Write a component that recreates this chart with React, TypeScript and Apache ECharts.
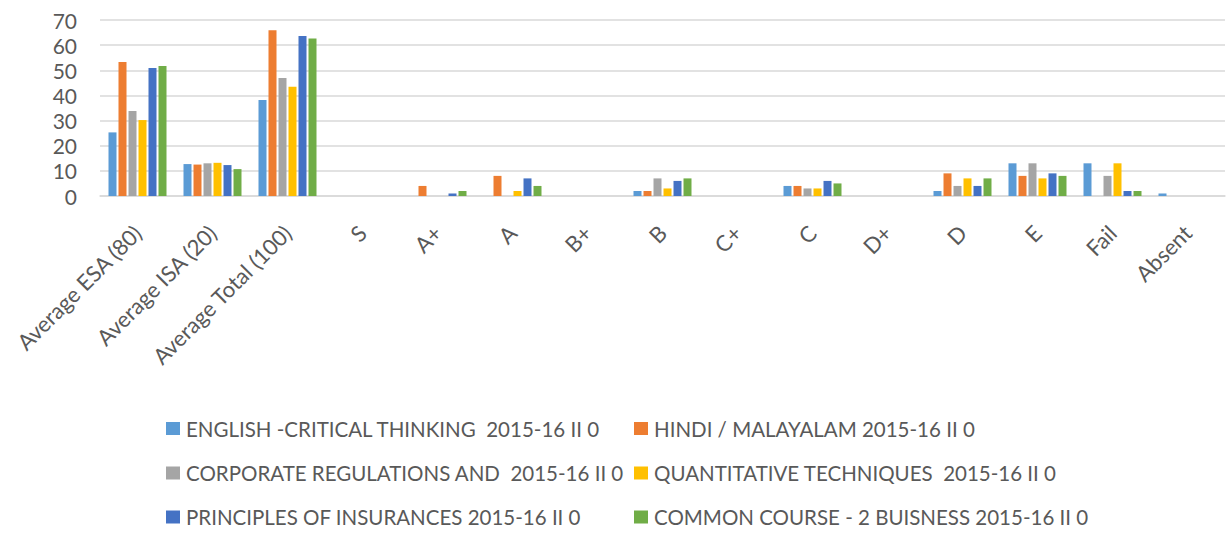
import React, { useEffect, useRef } from "react";
import * as echarts from "echarts";

const categories = [
  "Average ESA (80)", "Average ISA (20)", "Average Total (100)", "S", "A+", "A", "B+",
  "B", "C+", "C", "D+", "D", "E", "Fail", "Absent",
];

const seriesNames = [
  "ENGLISH -CRITICAL THINKING  2015-16 II 0",
  "HINDI / MALAYALAM 2015-16 II 0",
  "CORPORATE REGULATIONS AND  2015-16 II 0",
  "QUANTITATIVE TECHNIQUES  2015-16 II 0",
  "PRINCIPLES OF INSURANCES 2015-16 II 0",
  "COMMON COURSE - 2 BUISNESS 2015-16 II 0",
];

const english = [25.3, 12.7, 38.2, 0, 0, 0, 0, 2, 0, 4, 0, 2, 13, 13, 1];
const hindi = [53.3, 12.5, 65.9, 0, 4, 8, 0, 2, 0, 4, 0, 9, 8, 0, 0];
const corporate = [33.8, 13.0, 46.9, 0, 0, 0, 0, 7, 0, 3, 0, 4, 13, 8, 0];
const quantitative = [30.2, 13.2, 43.5, 0, 0, 2, 0, 3, 0, 3, 0, 7, 7, 13, 0];
const insurance = [50.9, 12.3, 63.6, 0, 1, 7, 0, 6, 0, 6, 0, 4, 9, 2, 0];
const common = [51.7, 10.7, 62.6, 0, 2, 4, 0, 7, 0, 5, 0, 7, 8, 2, 0];

const seriesData = [english, hindi, corporate, quantitative, insurance, common];
const colors = ["#5B9BD5", "#ED7D31", "#A5A5A5", "#FFC000", "#4472C4", "#70AD47"];

const legendLefts = [166, 634];
const legendRowCenters = [428, 472.5, 516.5];

const FONT = "Lato, 'Open Sans', sans-serif";

export default function App() {
  const ref = useRef<HTMLDivElement>(null);
  useEffect(() => {
    if (!ref.current) return;
    const chart = echarts.init(ref.current, undefined, { renderer: "svg" });
    const legends = seriesNames.map((name, i) => ({
      show: true,
      data: [name],
      left: legendLefts[i % 2],
      top: legendRowCenters[Math.floor(i / 2)] - 10,
      itemWidth: 14,
      itemHeight: 13,
      itemGap: 0,
      padding: 0,
      icon: "rect",
      selectedMode: false,
      textStyle: { fontFamily: FONT, fontSize: 20.5, color: "#595959", padding: [0, 0, 0, 1] },
    }));
    chart.setOption({
      animation: false,
      color: colors,
      textStyle: { fontFamily: FONT },
      grid: { left: 100, right: 2, top: 20, height: 176, containLabel: false },
      legend: legends,
      xAxis: {
        type: "category",
        data: categories,
        axisTick: { show: false },
        axisLine: { show: true, lineStyle: { color: "#d9d9d9", width: 1.5 } },
        axisLabel: {
          interval: 0,
          rotate: 45,
          margin: 33,
          fontSize: 22,
          color: "#595959",
          fontFamily: FONT,
        },
      },
      yAxis: {
        type: "value",
        min: 0,
        max: 70,
        interval: 10,
        axisLine: { show: false },
        axisTick: { show: false },
        splitLine: { lineStyle: { color: "#d9d9d9", width: 1.5 } },
        axisLabel: { fontSize: 21, color: "#595959", margin: 23, fontFamily: FONT },
      },
      series: seriesNames.map((name, i) => ({
        name,
        type: "bar",
        data: seriesData[i],
        barWidth: 8,
        barGap: "25%",
        itemStyle: { color: colors[i] },
      })),
    });
    return () => chart.dispose();
  }, []);
  return (
    <div
      ref={ref}
      style={{ position: "absolute", left: 0, top: 0, width: 1227, height: 533 }}
    />
  );
}
